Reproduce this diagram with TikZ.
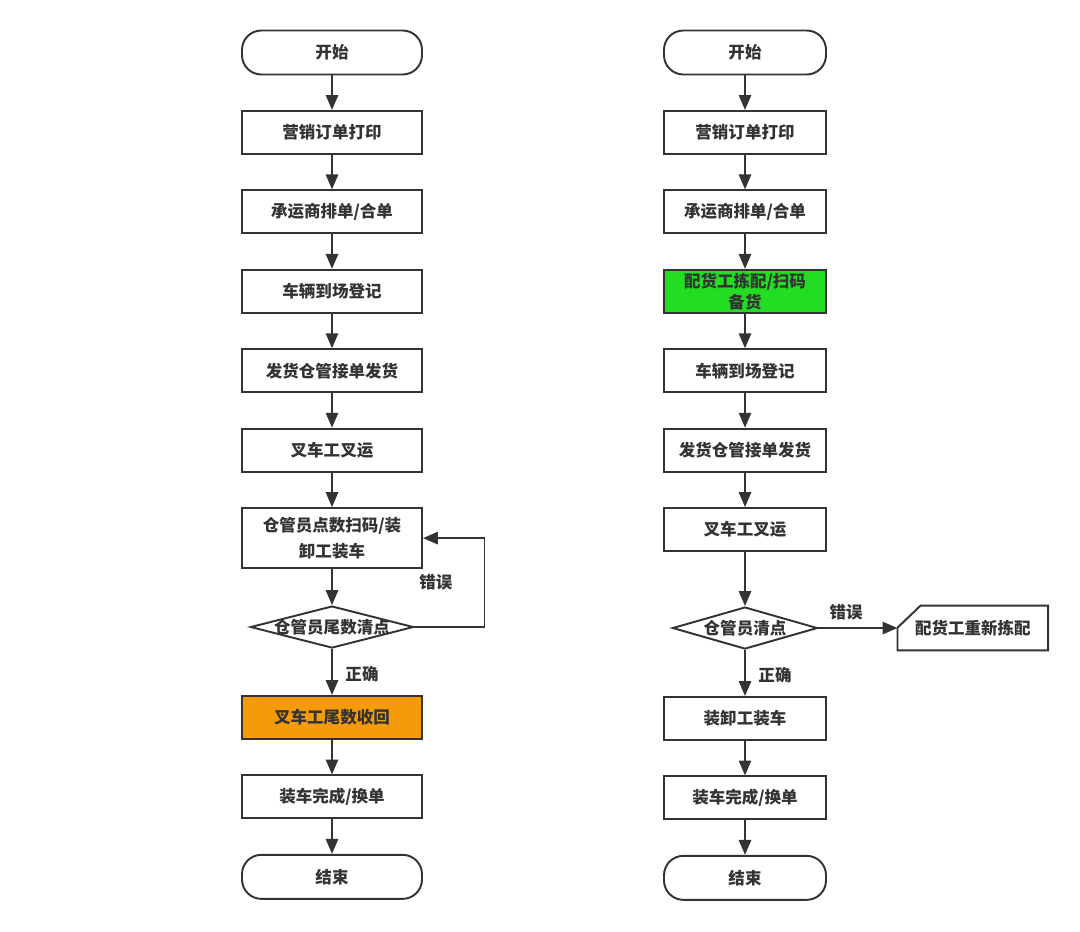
\documentclass[tikz,border=0pt]{standalone}
\usepackage{fontspec}
\setmainfont{Noto Sans CJK SC}
\usepackage{xcolor}
\definecolor{lineDark}{HTML}{333333}
\definecolor{tailOrange}{HTML}{F59B0A}
\definecolor{pickGreen}{HTML}{22DD22}
\usepackage{tikz}
\usetikzlibrary{shapes,arrows,positioning,calc,arrows.meta,shapes.misc}
\newcommand{\flowFont}{\fontsize{9.4pt}{12pt}\selectfont\bfseries}
\tikzset{%
  stepBox/.style={%
    rectangle,
    draw=lineDark,
    fill=white,
    line width=1.1pt,
    text=lineDark,
    font=\flowFont,
    minimum height=0.86cm,
    align=center
  },
  leftBox/.style={%
    stepBox,
    minimum width=3.6cm
  },
  rightBox/.style={%
    stepBox,
    minimum width=3.24cm
  },
  terminal/.style={%
    stepBox,
    minimum height=0.88cm,
    rounded corners=11pt
  },
  decision/.style={%
    diamond,
    draw=lineDark,
    fill=white,
    line width=1.1pt,
    text=lineDark,
    font=\flowFont,
    inner sep=0pt,
    minimum height=0.84cm
  },
  cardText/.style={%
    rectangle,
    text=lineDark,
    font=\flowFont,
    minimum width=3.0cm,
    minimum height=0.88cm
  },
  cardLine/.style={%
    draw=lineDark,
    line width=1.1pt
  },
  arrowLine/.style={%
    -{Triangle[length=8.5pt,width=7pt]},
    line width=1.1pt,
    color=lineDark
  },
  edgeLabel/.style={%
    text=lineDark,
    font=\flowFont,
    inner sep=2pt
  }
}

\begin{document}
\begin{tikzpicture}[node distance=0.69cm]
  \useasboundingbox (0,0) rectangle (21.6,-18.62);
  % left flow
  \node[terminal, minimum width=3.6cm] (startL) at (6.64,-1.05) {开始};
  \node[leftBox, below=of startL] (printL) {营销订单打印};
  \node[leftBox, below=of printL] (carrierL) {承运商排单/合单};
  \node[leftBox, below=of carrierL] (arriveL) {车辆到场登记};
  \node[leftBox, below=of arriveL] (keeperL) {发货仓管接单发货};
  \node[leftBox, below=of keeperL] (forkL) {叉车工叉运};
  \node[leftBox, minimum height=1.2cm, below=of forkL] (scanL) {仓管员点数扫码/装\\[3pt]卸工装车};
  \node[decision, minimum width=3.26cm, below=0.72cm of scanL] (checkL) {\makebox[0pt]{仓管员尾数清点}};
  \node[leftBox, fill=tailOrange, below=0.92cm of checkL] (tailL) {叉车工尾数收回};
  \node[leftBox, below=of tailL] (doneL) {装车完成/换单};
  \node[terminal, minimum width=3.6cm, below=of doneL] (endL) {结束};

  \draw[arrowLine] (startL) -- (printL);
  \draw[arrowLine] (printL) -- (carrierL);
  \draw[arrowLine] (carrierL) -- (arriveL);
  \draw[arrowLine] (arriveL) -- (keeperL);
  \draw[arrowLine] (keeperL) -- (forkL);
  \draw[arrowLine] (forkL) -- (scanL);
  \draw[arrowLine] (scanL) -- (checkL);
  \draw[arrowLine] (checkL) -- node[edgeLabel, right=0.18cm, pos=0.55]{正确} (tailL);
  \draw[arrowLine] (checkL.east) -- ++(1.4,0) |- node[edgeLabel, pos=0.25, left=0.55cm]{错误} (scanL.east);
  \draw[arrowLine] (tailL) -- (doneL);
  \draw[arrowLine] (doneL) -- (endL);

  % right flow
  \node[terminal, minimum width=3.24cm] (startR) at (14.9,-1.05) {开始};
  \node[rightBox, below=of startR] (printR) {营销订单打印};
  \node[rightBox, below=of printR] (carrierR) {承运商排单/合单};
  \node[rightBox, fill=pickGreen, inner ysep=0.5pt, below=of carrierR] (pickR) {配货工拣配/扫码\\备货};
  \node[rightBox, below=of pickR] (arriveR) {车辆到场登记};
  \node[rightBox, below=of arriveR] (keeperR) {发货仓管接单发货};
  \node[rightBox, below=of keeperR] (forkR) {叉车工叉运};
  \node[decision, minimum width=2.9cm, below=1.08cm of forkR] (checkR) {\makebox[0pt]{仓管员清点}};
  \node[cardText, right=1.58cm of checkR] (reworkR) {配货工重新拣配};
  \node[rightBox, below=0.92cm of checkR] (loadR) {装卸工装车};
  \node[rightBox, below=of loadR] (doneR) {装车完成/换单};
  \node[terminal, minimum width=3.24cm, below=of doneR] (endR) {结束};

  % cut corner card
  \draw[cardLine] ($(reworkR.north west)+(0.46,0)$) -- (reworkR.north east) -- (reworkR.south east)
    -- (reworkR.south west) -- ($(reworkR.north west)+(0,-0.44)$) -- cycle;

  \draw[arrowLine] (startR) -- (printR);
  \draw[arrowLine] (printR) -- (carrierR);
  \draw[arrowLine] (carrierR) -- (pickR);
  \draw[arrowLine] (pickR) -- (arriveR);
  \draw[arrowLine] (arriveR) -- (keeperR);
  \draw[arrowLine] (keeperR) -- (forkR);
  \draw[arrowLine] (forkR) -- (checkR);
  \draw[arrowLine] (checkR) -- node[edgeLabel, above=2pt, pos=0.35]{错误} (reworkR);
  \draw[arrowLine] (checkR) -- node[edgeLabel, right=0.18cm, pos=0.55]{正确} (loadR);
  \draw[arrowLine] (loadR) -- (doneR);
  \draw[arrowLine] (doneR) -- (endR);
\end{tikzpicture}
\end{document}
